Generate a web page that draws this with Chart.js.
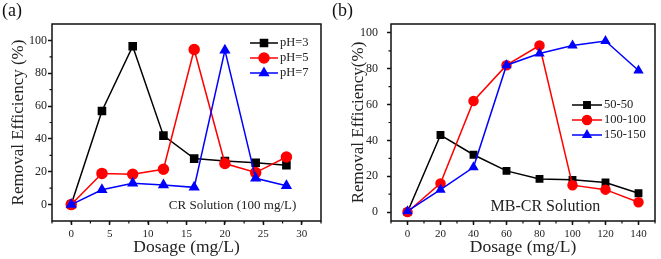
<!DOCTYPE html>
<html>
<head>
<meta charset="utf-8">
<script src="https://cdn.jsdelivr.net/npm/chart.js@4"></script>
<style>
  html, body { margin: 0; padding: 0; background: #fff; }
  #wrap { position: relative; width: 661px; height: 259px; }
  .panel { position: absolute; top: 0; height: 259px; }
</style>
</head>
<body>
<div id="wrap">
  <div class="panel" style="left:0;width:330px"><canvas id="chartA"></canvas></div>
  <div class="panel" style="left:330px;width:331px"><canvas id="chartB"></canvas></div>
</div>
<script>
// panel (a) - CR solution, different pH
const dosesA = [0, 4, 8, 12, 16, 20, 24, 28];
const ph3 = [0, 57, 96.5, 42, 28, 26.5, 25.5, 24];
const ph5 = [0, 19, 18.5, 21.5, 94.5, 25, 19.5, 29];
const ph7 = [0, 9, 13, 12, 10.5, 94, 16, 11.5];
const xTicksA = [0, 5, 10, 15, 20, 25, 30];
const yTicksA = [0, 20, 40, 60, 80, 100];

// panel (b) - MB-CR solution
const dosesB = [0, 20, 40, 60, 80, 100, 120, 140];
const s50 = [0, 43, 32, 23, 18.5, 18, 16.5, 10.5];
const s100 = [0, 16, 62, 82, 93, 15, 12.5, 5.5];
const s150 = [0.5, 12.5, 25, 82, 88.5, 93, 95.5, 79];
const xTicksB = [0, 20, 40, 60, 80, 100, 120, 140];
const yTicksB = [0, 20, 40, 60, 80, 100];

const serif = "'Liberation Serif', 'Times New Roman', serif";
Chart.defaults.font.family = serif;
Chart.defaults.color = '#222';

function pts(xs, ys) {
    return xs.map((x, i) => ({ x: x, y: ys[i] }));
}

function series(label, xs, ys, color, style, r, order) {
    return {
        label: label,
        data: pts(xs, ys),
        borderColor: color,
        backgroundColor: color,
        borderWidth: 1.5,
        pointStyle: style,
        pointRadius: r,
        pointHoverRadius: r,
        tension: 0,
        order: order
    };
}

// frame, minor ticks, legend and texts
const decor = {
    id: 'decor',
    afterDraw(chart, args, o) {
        const ctx = chart.ctx;
        const a = chart.chartArea;
        const xs = chart.scales.x, ys = chart.scales.y;
        ctx.save();
        ctx.strokeStyle = '#111';
        ctx.lineWidth = 1.5;
        ctx.strokeRect(a.left, a.top, a.right - a.left, a.bottom - a.top);

        // minor ticks
        ctx.lineWidth = 1.2;
        ctx.beginPath();
        for (let v = o.xMinor[0]; v <= o.xMinor[1] + 1e-9; v += o.xMinor[2]) {
            const px = xs.getPixelForValue(v);
            ctx.moveTo(px, a.bottom);
            ctx.lineTo(px, a.bottom + 2.5);
        }
        for (let v = o.yMinor[0]; v <= o.yMinor[1] + 1e-9; v += o.yMinor[2]) {
            const py = ys.getPixelForValue(v);
            ctx.moveTo(a.left, py);
            ctx.lineTo(a.left - 2.5, py);
        }
        ctx.stroke();

        // legend
        ctx.font = '12.5px ' + serif;
        ctx.textBaseline = 'middle';
        ctx.textAlign = 'left';
        chart.data.datasets.forEach((ds, i) => {
            const y = a.top + o.legend.top + i * o.legend.gap;
            const x0 = a.right - o.legend.right;
            ctx.strokeStyle = ds.borderColor;
            ctx.fillStyle = ds.backgroundColor;
            ctx.lineWidth = 1.5;
            ctx.beginPath();
            ctx.moveTo(x0, y);
            ctx.lineTo(x0 + o.legend.len, y);
            ctx.stroke();
            Chart.helpers.drawPoint(ctx, { pointStyle: ds.pointStyle, radius: ds.pointRadius, borderWidth: 1 }, x0 + o.legend.len / 2, y);
            ctx.fillStyle = '#222';
            ctx.fillText(ds.label, x0 + o.legend.len + 2, y);
        });

        // annotation inside the plot
        ctx.font = o.note.size + 'px ' + serif;
        ctx.textAlign = 'center';
        ctx.fillStyle = '#222';
        ctx.fillText(o.note.text, xs.getPixelForValue(o.note.x), ys.getPixelForValue(o.note.y));

        // panel tag
        ctx.font = '18px ' + serif;
        ctx.textAlign = 'left';
        ctx.fillStyle = '#111';
        ctx.fillText(o.tag, 2, 11);
        ctx.restore();
    }
};

function makeChart(id, datasets, p) {
    return new Chart(document.getElementById(id), {
        type: 'line',
        data: { datasets: datasets },
        options: {
            responsive: true,
            maintainAspectRatio: false,
            animation: false,
            layout: { padding: { top: 24, right: p.padRight, left: 0, bottom: 0 } },
            plugins: {
                legend: { display: false },
                tooltip: { enabled: false },
                decor: p.decor
            },
            scales: {
                x: {
                    type: 'linear',
                    min: p.xMin, max: p.xMax,
                    afterBuildTicks: s => { s.ticks = p.xTicks.map(v => ({ value: v })); },
                    afterFit: s => { s.height = 38; },
                    border: { display: false },
                    grid: { drawOnChartArea: false, tickLength: 4, tickColor: '#111', tickWidth: 1.5 },
                    ticks: { font: { family: serif, size: 11 }, padding: 3, maxRotation: 0, color: '#222' },
                    title: { display: true, text: 'Dosage (mg/L)', font: { family: serif, size: 17.5 }, color: '#222', padding: { top: 0, bottom: 1.5 } }
                },
                y: {
                    min: p.yMin, max: p.yMax,
                    afterBuildTicks: s => { s.ticks = p.yTicks.map(v => ({ value: v })); },
                    afterFit: s => { s.width = p.yWidth; },
                    border: { display: false },
                    grid: { drawOnChartArea: false, tickLength: 4, tickColor: '#111', tickWidth: 1.5 },
                    ticks: { font: { family: serif, size: 12 }, padding: p.yTickPad, color: '#222' },
                    title: { display: true, text: p.yTitle, font: { family: serif, size: 17 }, color: '#222', padding: { top: p.yTitlePad, bottom: 0 } }
                }
            }
        },
        plugins: [decor]
    });
}

makeChart('chartA', [
    series('pH=3', dosesA, ph3, '#000000', 'rect', 5, 2),
    series('pH=5', dosesA, ph5, '#ff0000', 'circle', 5, 1),
    series('pH=7', dosesA, ph7, '#0000ff', 'triangle', 5, 0)
], {
    padRight: 9, xMin: -2.5, xMax: 32.5, yMin: -10, yMax: 110,
    xTicks: xTicksA, yTicks: yTicksA, yWidth: 52, yTickPad: 1, yTitlePad: 8,
    yTitle: 'Removal Efficiency (%)',
    decor: {
        tag: '(a)',
        xMinor: [-2.5, 32.5, 2.5], yMinor: [10, 90, 20],
        legend: { top: 19, gap: 15, right: 71, len: 28 },
        note: { text: 'CR Solution (100 mg/L)', x: 21, y: -0.6, size: 13 }
    }
});

makeChart('chartB', [
    series('50-50', dosesB, s50, '#000000', 'rect', 4.5, 2),
    series('100-100', dosesB, s100, '#ff0000', 'circle', 4.5, 1),
    series('150-150', dosesB, s150, '#0000ff', 'triangle', 4.5, 0)
], {
    padRight: 1, xMin: -10, xMax: 150, yMin: -5, yMax: 105,
    xTicks: xTicksB, yTicks: yTicksB, yWidth: 61, yTickPad: 9, yTitlePad: 18,
    yTitle: 'Removal Efficiency(%)',
    decor: {
        tag: '(b)',
        xMinor: [-10, 150, 10], yMinor: [10, 90, 20],
        legend: { top: 81, gap: 15, right: 83, len: 30 },
        note: { text: 'MB-CR Solution', x: 83.6, y: 2.7, size: 16 }
    }
});
</script>
</body>
</html>
